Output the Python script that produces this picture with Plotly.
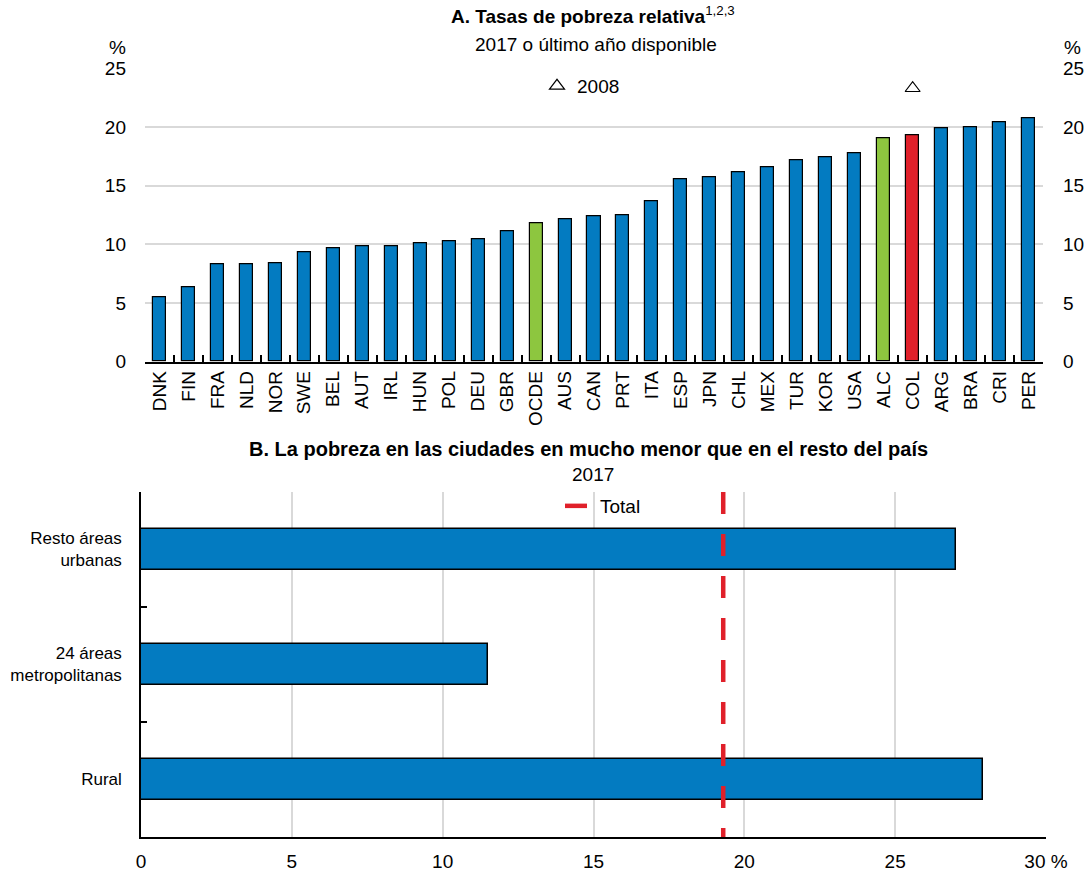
import plotly.graph_objects as go

# ---------------- Data ----------------
countries = ["DNK", "FIN", "FRA", "NLD", "NOR", "SWE", "BEL", "AUT", "IRL", "HUN",
             "POL", "DEU", "GBR", "OCDE", "AUS", "CAN", "PRT", "ITA", "ESP", "JPN",
             "CHL", "MEX", "TUR", "KOR", "USA", "ALC", "COL", "ARG", "BRA", "CRI", "PER"]
rates_2017 = [5.5, 6.3, 8.3, 8.3, 8.4, 9.3, 9.7, 9.8, 9.8, 10.1,
              10.3, 10.4, 11.1, 11.8, 12.1, 12.4, 12.5, 13.7, 15.5, 15.7,
              16.1, 16.6, 17.2, 17.4, 17.8, 19.0, 19.3, 19.9, 20.0, 20.4, 20.7]
rates_2008 = [None] * 26 + [23.3] + [None] * 4
green_groups = ["OCDE", "ALC"]
red_groups = ["COL"]

areas = ["Rural", "24 áreas<br>metropolitanas", "Resto áreas<br>urbanas"]
area_rates = [27.9, 11.5, 27.0]
total_rate = 19.3

# ---------------- Styling ----------------
W, H = 1085, 875
FONT = "Liberation Sans Narrow, Arial Narrow, Liberation Sans, Arial, sans-serif"
BLUE = "#037bc1"
GREEN = "#8dc63f"
RED = "#e0202a"
GRID = "#d9d9d9"


def px_x(p):
    return p / W


def px_y(p):
    return 1 - p / H


bar_colors = [GREEN if c in green_groups else RED if c in red_groups else BLUE
              for c in countries]

fig = go.Figure()

fig.add_trace(go.Bar(
    x=countries, y=rates_2017, width=0.45,
    marker=dict(color=bar_colors, line=dict(color="black", width=1.2)),
    showlegend=False, xaxis="x", yaxis="y"))

fig.add_trace(go.Scatter(
    x=countries, y=rates_2008, mode="markers", name="2008",
    marker=dict(symbol="triangle-up-open", size=13, color="black",
                line=dict(color="black", width=1.2)),
    xaxis="x", yaxis="y", legend="legend"))

# invisible trace for right-side axis
fig.add_trace(go.Scatter(x=[countries[0]], y=[0], mode="markers",
                         marker=dict(opacity=0), showlegend=False,
                         hoverinfo="skip", xaxis="x", yaxis="y2"))

fig.add_trace(go.Bar(
    x=area_rates, y=areas, orientation="h", width=0.365,
    marker=dict(color=BLUE, line=dict(color="black", width=1.5)),
    showlegend=False, xaxis="x3", yaxis="y3"))

fig.add_trace(go.Scatter(
    x=[total_rate, total_rate], y=[1, 0], mode="lines", name="Total",
    line=dict(color=RED, width=4.5, dash="22px,20px"),
    xaxis="x3", yaxis="y4", legend="legend2"))

tick_font = dict(family=FONT, size=19, color="black")

fig.update_layout(
    width=W, height=H,
    margin=dict(l=0, r=0, t=0, b=0),
    paper_bgcolor="white", plot_bgcolor="white",
    font=dict(family=FONT, size=19, color="black"),
    bargap=0,
    xaxis=dict(domain=[px_x(145), px_x(1043)], type="category",
               range=[-0.5, len(countries) - 0.5],
               tickson="boundaries", ticks="inside", ticklen=7, tickwidth=1.5,
               tickcolor="black", showline=True, linecolor="black", linewidth=1.5,
               tickangle=-90, tickfont=tick_font, showgrid=False,
               anchor="y", automargin=False, ticklabelstandoff=0),
    yaxis=dict(domain=[px_y(361.7), px_y(68.3)], range=[0, 25], dtick=5,
               showgrid=True, gridcolor=GRID, gridwidth=1.5, zeroline=False,
               showline=False, ticks="", tickfont=tick_font, anchor="x",
               automargin=False, ticklabelstandoff=18),
    yaxis2=dict(overlaying="y", side="right", range=[0, 25], dtick=5,
                showgrid=False, zeroline=False, showline=False, ticks="",
                tickfont=tick_font, anchor="x", automargin=False,
                ticklabelstandoff=19),
    xaxis3=dict(domain=[px_x(141), px_x(1046)], range=[0, 30],
                tickvals=[0, 5, 10, 15, 20, 25, 30],
                ticktext=["0", "5", "10", "15", "20", "25", "30 %"],
                showgrid=True, gridcolor=GRID, gridwidth=1.5, zeroline=False,
                showline=True, linecolor="black", linewidth=1.5, ticks="",
                tickfont=tick_font, anchor="y3", automargin=False,
                ticklabelstandoff=6),
    yaxis3=dict(domain=[px_y(837), px_y(492)], type="category",
                categoryorder="array", categoryarray=areas, range=[-0.5, 2.5],
                tickson="boundaries", ticks="inside", ticklen=6, tickwidth=1.5,
                tickcolor="black", showline=True, linecolor="black", linewidth=1.5,
                showgrid=False, tickfont=dict(family=FONT, size=17, color="black"),
                anchor="x3", automargin=False, ticklabelstandoff=14),
    yaxis4=dict(overlaying="y3", range=[0, 1], visible=False, anchor="x3"),
    legend=dict(x=px_x(537), y=px_y(86), xanchor="left", yanchor="middle",
                bgcolor="rgba(0,0,0,0)", borderwidth=0,
                font=dict(family=FONT, size=19, color="black")),
    legend2=dict(x=px_x(560), y=px_y(506), xanchor="left", yanchor="middle",
                 bgcolor="rgba(0,0,0,0)", borderwidth=0,
                 font=dict(family=FONT, size=19, color="black")),
    annotations=[
        dict(text="<b>A. Tasas de pobreza relativa</b><sup>1,2,3</sup>",
             x=px_x(593), y=px_y(15), xref="paper", yref="paper",
             showarrow=False, xanchor="center", yanchor="middle",
             font=dict(family=FONT, size=19, color="black")),
        dict(text="2017 o último año disponible",
             x=px_x(596), y=px_y(45), xref="paper", yref="paper",
             showarrow=False, xanchor="center", yanchor="middle",
             font=dict(family=FONT, size=19, color="black")),
        dict(text="%", x=px_x(107), y=px_y(47), xref="paper", yref="paper",
             showarrow=False, xanchor="left", yanchor="middle",
             font=dict(family=FONT, size=19, color="black")),
        dict(text="%", x=px_x(1062), y=px_y(47), xref="paper", yref="paper",
             showarrow=False, xanchor="left", yanchor="middle",
             font=dict(family=FONT, size=19, color="black")),
        dict(text="<b>B. La pobreza en las ciudades en mucho menor que en el resto del país</b>",
             x=px_x(588), y=px_y(449), xref="paper", yref="paper",
             showarrow=False, xanchor="center", yanchor="middle",
             font=dict(family=FONT, size=20, color="black")),
        dict(text="2017",
             x=px_x(593), y=px_y(474), xref="paper", yref="paper",
             showarrow=False, xanchor="center", yanchor="middle",
             font=dict(family=FONT, size=19, color="black")),
    ],
)

fig.write_html("out.html")
